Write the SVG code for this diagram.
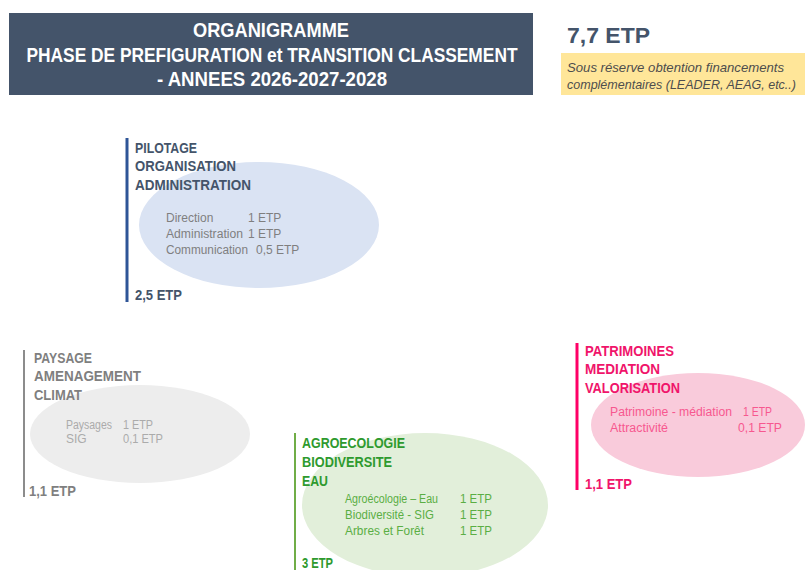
<svg xmlns="http://www.w3.org/2000/svg" width="805" height="570" viewBox="0 0 805 570">
<style>
  text { font-family: "Liberation Sans", Arial, sans-serif; }
  .title { font-size: 19.5px; font-weight: bold; fill: #FFFFFF; text-anchor: middle; }
  .head { font-size: 14.5px; font-weight: bold; }
  .item { font-size: 12px; }
  .etp { font-size: 14.5px; font-weight: bold; }
  .note { font-size: 13.5px; font-style: italic; fill: #4D4D4D; }
  .blue .head, .blue .etp { fill: #44546A; }
  .blue .item { fill: #7F7F7F; }
  .gray .head, .gray .etp { fill: #7F7F7F; }
  .gray .item { fill: #ABABAB; }
  .green .head, .green .etp { fill: #2E9A2E; }
  .green .item { fill: #5AAE44; }
  .pink .head, .pink .etp { fill: #F0146A; }
  .pink .item { fill: #F7588F; }
</style>
<rect width="805" height="570" fill="#FFFFFF"/>

<g id="title">
  <rect x="9" y="13" width="524" height="82" fill="#44546A"/>
  <text class="title" x="271" y="37" textLength="156" lengthAdjust="spacingAndGlyphs">ORGANIGRAMME</text>
  <text class="title" x="272" y="62" textLength="491" lengthAdjust="spacingAndGlyphs">PHASE DE PREFIGURATION et TRANSITION CLASSEMENT</text>
  <text class="title" x="272" y="86" textLength="230" lengthAdjust="spacingAndGlyphs">- ANNEES 2026-2027-2028</text>
</g>

<g id="total">
  <text x="567" y="43" font-size="22.5" font-weight="bold" fill="#44546A" textLength="83" lengthAdjust="spacingAndGlyphs">7,7 ETP</text>
  <rect x="561" y="53" width="244" height="42" fill="#FFE699"/>
  <text class="note" x="567" y="72" textLength="217" lengthAdjust="spacingAndGlyphs">Sous réserve obtention financements</text>
  <text class="note" x="567" y="89" textLength="229" lengthAdjust="spacingAndGlyphs">complémentaires (LEADER, AEAG, etc..)</text>
</g>

<g id="pilotage" class="blue">
  <ellipse cx="259" cy="225" rx="120" ry="63" fill="#DAE3F3"/>
  <line x1="127" y1="138" x2="127" y2="302" stroke="#2F5597" stroke-width="3"/>
  <text class="head" x="135" y="153" textLength="62" lengthAdjust="spacingAndGlyphs">PILOTAGE</text>
  <text class="head" x="135" y="171" textLength="101" lengthAdjust="spacingAndGlyphs">ORGANISATION</text>
  <text class="head" x="135" y="190" textLength="116" lengthAdjust="spacingAndGlyphs">ADMINISTRATION</text>
  <text class="item" x="166" y="222">Direction</text>
  <text class="item" x="248" y="222">1 ETP</text>
  <text class="item" x="166" y="238" textLength="77" lengthAdjust="spacingAndGlyphs">Administration</text>
  <text class="item" x="248" y="238">1 ETP</text>
  <text class="item" x="166" y="254" textLength="82" lengthAdjust="spacingAndGlyphs">Communication</text>
  <text class="item" x="256" y="254">0,5 ETP</text>
  <text class="etp" x="135" y="300" textLength="47" lengthAdjust="spacingAndGlyphs">2,5 ETP</text>
</g>

<g id="paysage" class="gray">
  <ellipse cx="140" cy="434" rx="110" ry="49" fill="#EDEDED"/>
  <line x1="24" y1="350" x2="24" y2="497" stroke="#8C8C8C" stroke-width="2"/>
  <text class="head" x="34" y="363" textLength="58" lengthAdjust="spacingAndGlyphs">PAYSAGE</text>
  <text class="head" x="34" y="381" textLength="107" lengthAdjust="spacingAndGlyphs">AMENAGEMENT</text>
  <text class="head" x="34" y="400" textLength="48" lengthAdjust="spacingAndGlyphs">CLIMAT</text>
  <text class="item" x="66" y="429" textLength="46" lengthAdjust="spacingAndGlyphs">Paysages</text>
  <text class="item" x="123" y="429" textLength="30" lengthAdjust="spacingAndGlyphs">1 ETP</text>
  <text class="item" x="66" y="443">SIG</text>
  <text class="item" x="123" y="443" textLength="40" lengthAdjust="spacingAndGlyphs">0,1 ETP</text>
  <text class="etp" x="29" y="496" textLength="47" lengthAdjust="spacingAndGlyphs">1,1 ETP</text>
</g>

<g id="agroecologie" class="green">
  <ellipse cx="425" cy="505" rx="123" ry="72" fill="#E2EFDA"/>
  <line x1="295" y1="433" x2="295" y2="570" stroke="#70AD47" stroke-width="2"/>
  <text class="head" x="302" y="448" textLength="103" lengthAdjust="spacingAndGlyphs">AGROECOLOGIE</text>
  <text class="head" x="302" y="467" textLength="90" lengthAdjust="spacingAndGlyphs">BIODIVERSITE</text>
  <text class="head" x="302" y="486" textLength="26" lengthAdjust="spacingAndGlyphs">EAU</text>
  <text class="item" x="345" y="503" textLength="93" lengthAdjust="spacingAndGlyphs">Agroécologie – Eau</text>
  <text class="item" x="460" y="503" textLength="32" lengthAdjust="spacingAndGlyphs">1 ETP</text>
  <text class="item" x="345" y="519" textLength="89" lengthAdjust="spacingAndGlyphs">Biodiversité - SIG</text>
  <text class="item" x="460" y="519" textLength="32" lengthAdjust="spacingAndGlyphs">1 ETP</text>
  <text class="item" x="345" y="535" textLength="79" lengthAdjust="spacingAndGlyphs">Arbres et Forêt</text>
  <text class="item" x="460" y="535" textLength="32" lengthAdjust="spacingAndGlyphs">1 ETP</text>
  <text class="etp" x="302" y="568" textLength="31" lengthAdjust="spacingAndGlyphs">3 ETP</text>
</g>

<g id="patrimoines" class="pink">
  <ellipse cx="698" cy="425" rx="107" ry="52" fill="#F9CBDB"/>
  <line x1="577" y1="343" x2="577" y2="490" stroke="#FF0066" stroke-width="3"/>
  <text class="head" x="585" y="356" textLength="89" lengthAdjust="spacingAndGlyphs">PATRIMOINES</text>
  <text class="head" x="585" y="374" textLength="75" lengthAdjust="spacingAndGlyphs">MEDIATION</text>
  <text class="head" x="585" y="393" textLength="95" lengthAdjust="spacingAndGlyphs">VALORISATION</text>
  <text class="item" x="610" y="416" textLength="122" lengthAdjust="spacingAndGlyphs">Patrimoine - médiation</text>
  <text class="item" x="743" y="416" textLength="29" lengthAdjust="spacingAndGlyphs">1 ETP</text>
  <text class="item" x="610" y="432" textLength="58" lengthAdjust="spacingAndGlyphs">Attractivité</text>
  <text class="item" x="738" y="432" textLength="44" lengthAdjust="spacingAndGlyphs">0,1 ETP</text>
  <text class="etp" x="585" y="489" textLength="47" lengthAdjust="spacingAndGlyphs">1,1 ETP</text>
</g>

<g id="connectors"/>
</svg>
